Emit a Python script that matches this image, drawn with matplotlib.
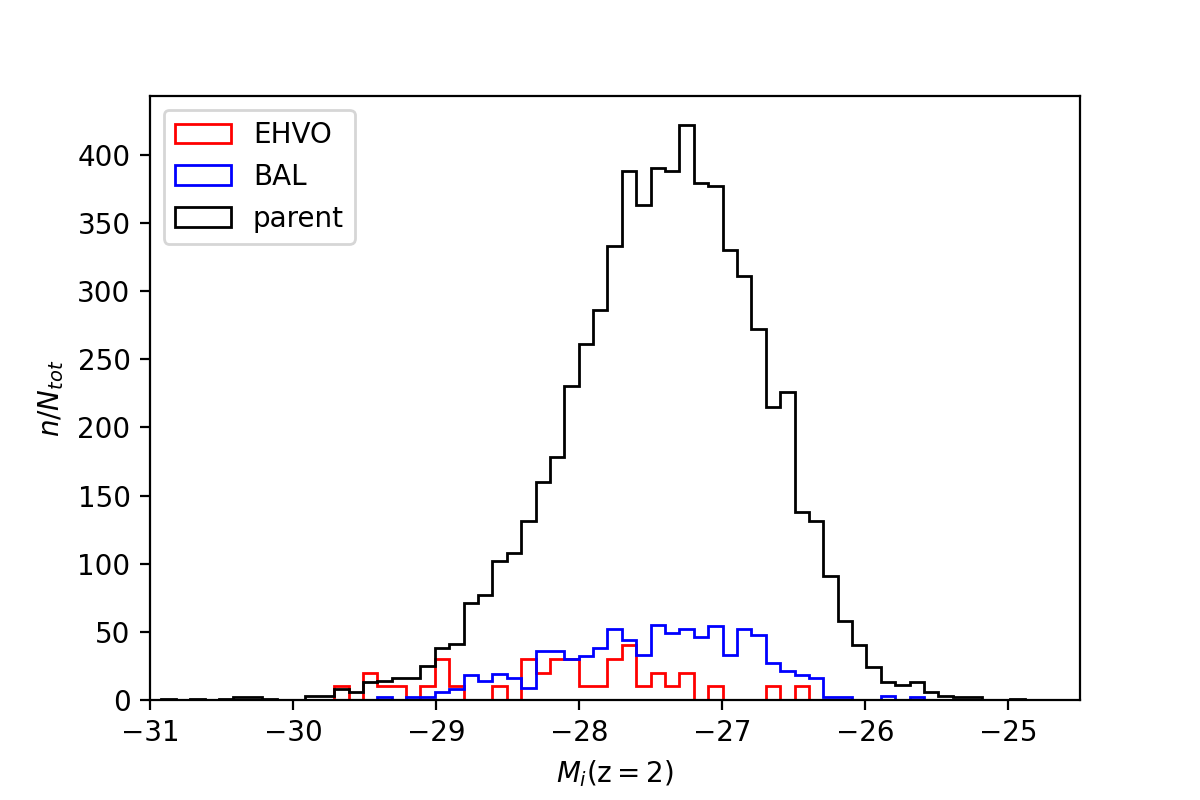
import numpy as np
import matplotlib
matplotlib.use("Agg")
import matplotlib.pyplot as plt

# bins shared by all three histograms (60 bins)
bin_lo = -30.92
bin_hi = -24.886
n_bins = 60

# counts per bin
parent = [1, 0, 1, 0, 1, 2, 2, 1, 0, 0,
          3, 3, 8, 6, 13, 14, 16, 16, 25, 38,
          41, 71, 77, 102, 108, 131, 160, 178, 230, 261,
          286, 333, 388, 363, 390, 388, 422, 379, 377, 330,
          311, 272, 215, 226, 138, 131, 91, 58, 40, 24,
          13, 11, 13, 6, 3, 2, 2, 0, 0, 1]

bal = [0, 0, 0, 0, 0, 0, 0, 0, 0, 0,
       0, 0, 0, 0, 0, 2, 0, 2, 2, 6,
       8, 18, 14, 19, 16, 9, 36, 36, 30, 32,
       38, 52, 44, 33, 55, 49, 52, 46, 54, 33,
       52, 48, 27, 21, 18, 16, 2, 2, 0, 0,
       3, 0, 2, 0, 0, 0, 0, 0, 0, 0]

ehvo = [0, 0, 0, 0, 0, 0, 0, 0, 0, 0,
        0, 0, 10, 0, 20, 10, 10, 0, 10, 30,
        10, 0, 0, 10, 0, 30, 20, 30, 30, 10,
        10, 30, 40, 10, 20, 10, 20, 0, 10, 0,
        0, 0, 10, 0, 10, 0, 0, 0, 0, 0,
        0, 0, 0, 0, 0, 0, 0, 0, 0, 0]

edges = np.linspace(bin_lo, bin_hi, n_bins + 1)
centers = 0.5 * (edges[:-1] + edges[1:])

fig, ax = plt.subplots(figsize=(6, 4), dpi=200)
fig.subplots_adjust(bottom=0.125)

ax.hist(centers, bins=edges, weights=ehvo, histtype='step', color='red', label='EHVO')
ax.hist(centers, bins=edges, weights=bal, histtype='step', color='blue', label='BAL')
ax.hist(centers, bins=edges, weights=parent, histtype='step', color='black', label='parent')

ax.set_xlim(-31, -24.5)
ax.set_xlabel(r'$M_i(\mathrm{z}=2)$')
ax.set_ylabel(r'$n/N_{tot}$')
ax.legend(loc='upper left')

plt.savefig('out.png')
